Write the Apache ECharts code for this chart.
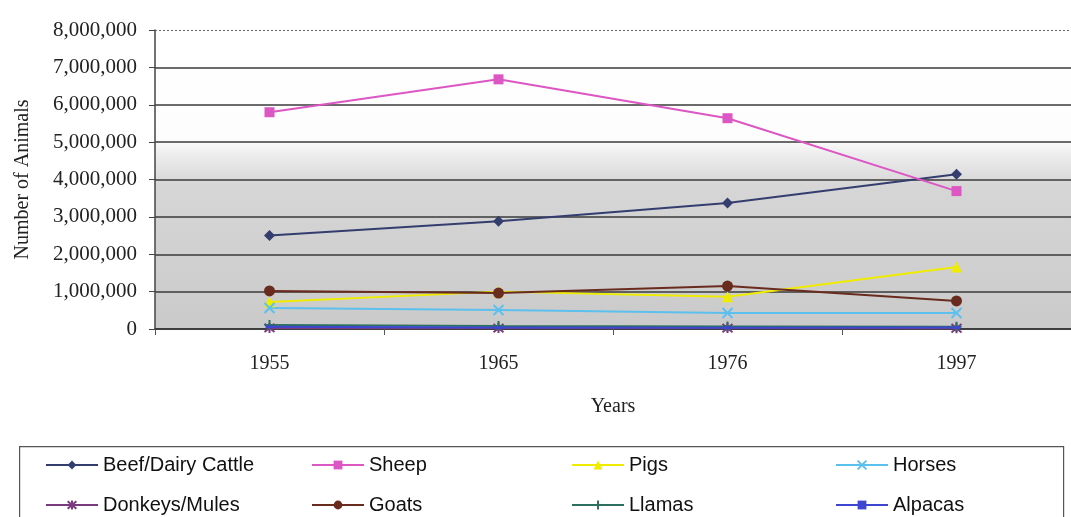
<!DOCTYPE html>
<html>
<head>
<meta charset="utf-8">
<script src="https://cdn.jsdelivr.net/npm/echarts@6/dist/echarts.min.js"></script>
<style>
  html, body { margin: 0; padding: 0; background: #fff; }
  #chart { width: 1071px; height: 517px; }
</style>
</head>
<body>
<div id="chart"></div>
<script>
// Livestock numbers by census year
const years = ['1955', '1965', '1976', '1997'];
const cattle  = [2500000, 2880000, 3370000, 4140000];
const sheep   = [5800000, 6680000, 5640000, 3690000];
const pigs    = [720000, 1000000, 860000, 1660000];
const horses  = [560000, 510000, 430000, 430000];
const donkeys = [30000, 25000, 25000, 20000];
const goats   = [1020000, 960000, 1150000, 750000];
const llamas  = [110000, 80000, 70000, 60000];
const alpacas = [60000, 40000, 35000, 40000];

const yTicks = [0, 1000000, 2000000, 3000000, 4000000, 5000000, 6000000, 7000000, 8000000];

const serif = 'Liberation Serif';
const sans = 'Liberation Sans';

const X_PATH = 'path://M0,0L10,10M10,0L0,10';
const STAR_PATH = 'path://M0,0L10,10M10,0L0,10M5,-1L5,11';
const PLUS_PATH = 'path://M5,0L5,10M0,5L10,5';

function lineSeries(name, data, color, symbol, size, stroked) {
  return {
    name: name,
    type: 'line',
    data: data,
    symbol: symbol,
    symbolSize: size,
    showSymbol: true,
    lineStyle: { color: color, width: 2 },
    itemStyle: stroked
      ? { color: color, borderColor: color, borderWidth: 2 }
      : { color: color, borderWidth: 0 },
    emphasis: { disabled: true },
    animation: false
  };
}

const series = [
  lineSeries('Beef/Dairy Cattle', cattle, '#343e6e', 'diamond', 11, false),
  lineSeries('Sheep', sheep, '#dc56c4', 'rect', 10, false),
  lineSeries('Pigs', pigs, '#f0ec00', 'triangle', 11, false),
  lineSeries('Horses', horses, '#5cc0ee', X_PATH, 10, true),
  lineSeries('Donkeys/Mules', donkeys, '#7a3a80', STAR_PATH, 10, true),
  lineSeries('Goats', goats, '#6a2b1f', 'circle', 11, false),
  lineSeries('Llamas', llamas, '#2b6f5f', PLUS_PATH, 10, true),
  lineSeries('Alpacas', alpacas, '#3c46d0', 'rect', [8, 3], false)
];

// dotted line along the top of the value range
series[0].markLine = {
  silent: true,
  symbol: 'none',
  label: { show: false },
  lineStyle: { type: [2, 2], color: '#666', width: 1.2 },
  data: [{ yAxis: yTicks[yTicks.length - 1] }],
  animation: false
};

const splitColors = yTicks.map((v, i) => i === yTicks.length - 1 ? 'rgba(0,0,0,0)' : '#3a3a3a');

// one legend per entry, arranged in a 4 x 2 table
const legendCols = [45, 311, 571, 835];
const legendRows = [455, 495];
const legendOrder = [
  ['Beef/Dairy Cattle', 'Sheep', 'Pigs', 'Horses'],
  ['Donkeys/Mules', 'Goats', 'Llamas', 'Alpacas']
];
const legends = [];
legendOrder.forEach((row, r) => {
  row.forEach((name, c) => {
    legends.push({
      data: [name],
      left: legendCols[c],
      top: legendRows[r],
      padding: 0,
      itemWidth: 52,
      itemHeight: 11,
      itemGap: 6,
      textStyle: { fontFamily: sans, fontSize: 20, color: '#111' },
      selectedMode: false
    });
  });
});

const option = {
  backgroundColor: '#ffffff',
  animation: false,
  grid: {
    left: 155,
    top: 30,
    width: 918,
    bottom: 188,
    show: true,
    borderWidth: 0,
    backgroundColor: {
      type: 'linear', x: 0, y: 0, x2: 0, y2: 1,
      colorStops: [
        { offset: 0, color: '#ffffff' },
        { offset: 0.36, color: '#fdfdfd' },
        { offset: 0.42, color: '#ececec' },
        { offset: 0.52, color: '#d6d6d6' },
        { offset: 1, color: '#cacaca' }
      ]
    }
  },
  xAxis: {
    type: 'category',
    data: years,
    boundaryGap: true,
    name: 'Years',
    nameLocation: 'middle',
    nameGap: 68,
    nameTextStyle: { fontFamily: serif, fontSize: 20, color: '#222' },
    axisLine: { show: true, lineStyle: { color: '#333', width: 1.5 } },
    axisTick: { show: true, alignWithLabel: false, length: 6, lineStyle: { color: '#555' } },
    axisLabel: { fontFamily: serif, fontSize: 20, color: '#222', margin: 25 },
    splitLine: { show: false }
  },
  yAxis: {
    type: 'value',
    min: 0,
    max: 8000000,
    interval: 1000000,
    name: 'Number of Animals',
    nameLocation: 'middle',
    nameGap: 122,
    nameTextStyle: { fontFamily: serif, fontSize: 20, color: '#222' },
    axisLine: { show: true, lineStyle: { color: '#444', width: 1.5 } },
    axisTick: { show: true, length: 6, lineStyle: { color: '#444' } },
    axisLabel: {
      fontFamily: serif, fontSize: 21, color: '#222', margin: 18,
      formatter: v => v.toLocaleString('en-US')
    },
    splitLine: { show: true, lineStyle: { color: splitColors, width: 1.5 } }
  },
  legend: legends,
  graphic: [{
    type: 'rect',
    left: 19,
    top: 446,
    shape: { width: 1044, height: 80 },
    style: { fill: 'rgba(0,0,0,0)', stroke: '#555', lineWidth: 1.2 },
    silent: true,
    z: 0
  }],
  series: series
};

const chart = echarts.init(document.getElementById('chart'), null, { renderer: 'canvas' });
chart.setOption(option);
</script>
</body>
</html>
